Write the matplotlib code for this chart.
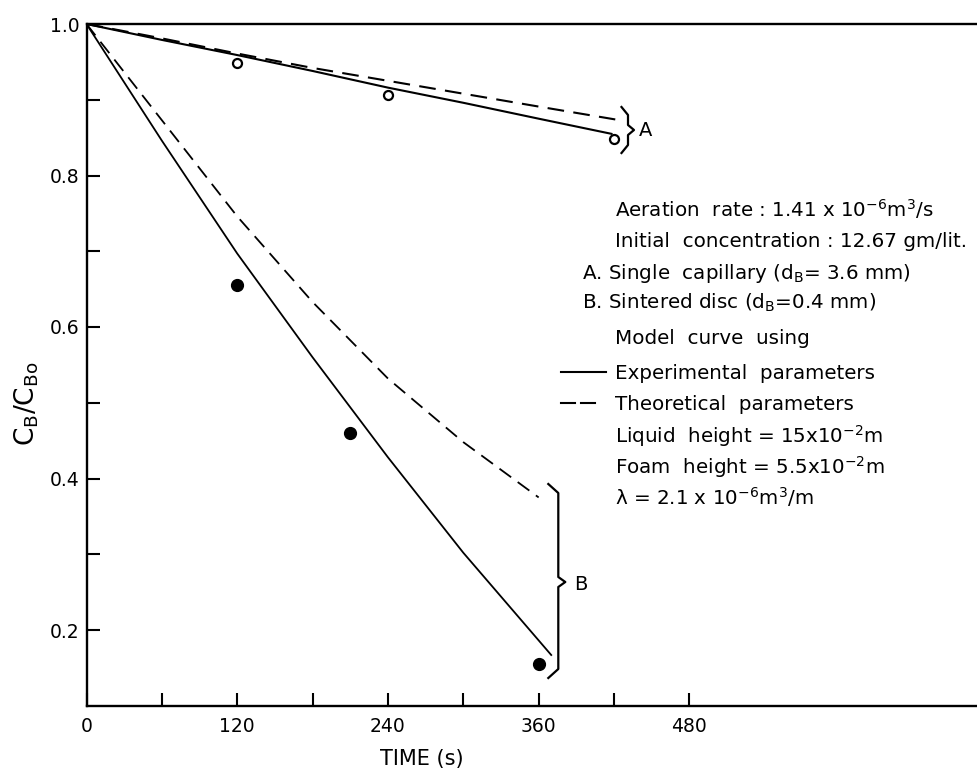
import matplotlib
matplotlib.use("Agg")
import matplotlib.pyplot as plt

plt.rcParams['font.family'] = ['DejaVu Sans']
plt.rcParams['mathtext.default'] = 'regular'

# A : single capillary, model curves and data
t_a_exp = [0, 60, 120, 180, 240, 300, 360, 418]
c_a_exp = [1.0, 0.979, 0.959, 0.938, 0.916, 0.896, 0.875, 0.855]
t_a_theo = [0, 60, 120, 180, 240, 300, 360, 421]
c_a_theo = [1.0, 0.981, 0.961, 0.942, 0.925, 0.908, 0.891, 0.874]
t_a_pts = [120, 240, 420]
c_a_pts = [0.949, 0.906, 0.848]

# B : sintered disc
t_b_exp = [0, 60, 120, 180, 240, 300, 370]
c_b_exp = [1.0, 0.846, 0.697, 0.560, 0.428, 0.302, 0.167]
t_b_theo = [0, 60, 120, 180, 240, 300, 360]
c_b_theo = [1.0, 0.873, 0.746, 0.633, 0.532, 0.448, 0.375]
t_b_pts = [120, 210, 360]
c_b_pts = [0.655, 0.46, 0.155]

xticks = [0, 60, 120, 180, 240, 300, 360, 420, 480]
xticklabels = ['0', '', '120', '', '240', '', '360', '', '480']
yticks = [0.2, 0.3, 0.4, 0.5, 0.6, 0.7, 0.8, 0.9, 1.0]
yticklabels = ['0.2', '', '0.4', '', '0.6', '', '0.8', '', '1.0']

notes = [
    (615, 210, r'Aeration  rate : 1.41 x 10$^{-6}$m$^3$/s'),
    (615, 240, 'Initial  concentration : 12.67 gm/lit.'),
    (582, 272, r'A. Single  capillary (d$_B$= 3.6 mm)'),
    (582, 302, r'B. Sintered disc (d$_B$=0.4 mm)'),
    (615, 337, 'Model  curve  using'),
    (615, 372, 'Experimental  parameters'),
    (615, 403, 'Theoretical  parameters'),
    (615, 436, r'Liquid  height = 15x10$^{-2}$m'),
    (615, 467, r'Foam  height = 5.5x10$^{-2}$m'),
    (615, 498, r'λ = 2.1 x 10$^{-6}$m$^3$/m'),
]

W, H = 977, 769
x0, x1, y0, y1 = 86.5, 977, 24, 705.75

fig = plt.figure(figsize=(W / 100, H / 100), dpi=100)
ax = fig.add_axes([x0 / W, 1 - y1 / H, (x1 - x0) / W, (y1 - y0) / H])

dash = (0, (8, 4.5))
ax.plot(t_a_exp, c_a_exp, 'k-', lw=1.5)
ax.plot(t_a_theo, c_a_theo, color='k', ls=dash, lw=1.5)
ax.plot(t_b_exp, c_b_exp, 'k-', lw=1.3)
ax.plot(t_b_theo, c_b_theo, color='k', ls=dash, lw=1.3)
ax.plot(t_a_pts, c_a_pts, 'o', mfc='white', mec='k', ms=6.5, mew=1.6)
ax.plot(t_b_pts, c_b_pts, 'o', color='k', ms=8.5)

ax.set_xlim(0, 709)
ax.set_ylim(0.1, 1.0)
ax.set_xticks(xticks)
ax.set_xticklabels(xticklabels)
ax.set_yticks(yticks)
ax.set_yticklabels(yticklabels)
ax.tick_params(direction='in', length=9.5, width=1.5, labelsize=13.5)
ax.tick_params(axis='x', pad=8)
ax.tick_params(axis='y', pad=5)
ax.spines['right'].set_visible(False)
for s in ['left', 'bottom', 'top']:
    ax.spines[s].set_linewidth(1.7)


def px(x, y):
    return (x - x0) / (x1 - x0), (y1 - y) / (y1 - y0)


def brace(xl, yt, yb, ytip, hook, tip, gap, hk):
    pts = [(xl - hook, yt), (xl, yt + hk), (xl, ytip - gap), (xl + tip, ytip),
           (xl, ytip + gap), (xl, yb - hk), (xl - hook, yb)]
    xs, ys = zip(*[px(a, b) for a, b in pts])
    ax.plot(xs, ys, 'k-', lw=1.6, transform=ax.transAxes, clip_on=False)


brace(628, 107, 153, 130, 6.5, 6, 5, 8)
brace(558.3, 484, 678, 582, 10, 7, 5, 9)
ax.text(*px(639, 130), 'A', transform=ax.transAxes, fontsize=14, va='center')
ax.text(*px(574, 585), 'B', transform=ax.transAxes, fontsize=14, va='center')

for x, y, s in notes:
    ax.text(*px(x, y + 7), s, transform=ax.transAxes, fontsize=14.3, va='baseline')

# legend line samples
ax.plot(*zip(px(561, 372), px(606, 372)), 'k-', lw=1.5, transform=ax.transAxes)
ax.plot(*zip(px(561, 403), px(575, 403)), 'k-', lw=1.5, transform=ax.transAxes)
ax.plot(*zip(px(581, 403), px(595, 403)), 'k-', lw=1.5, transform=ax.transAxes)

fig.text(27 / W, 1 - 404 / H, r'C$_B$/C$_{Bo}$', rotation=90, ha='center',
         va='center', fontsize=19)
fig.text(422 / W, 1 - 759 / H, 'TIME (s)', ha='center', va='center', fontsize=15)

fig.savefig('out.png', dpi=100)
